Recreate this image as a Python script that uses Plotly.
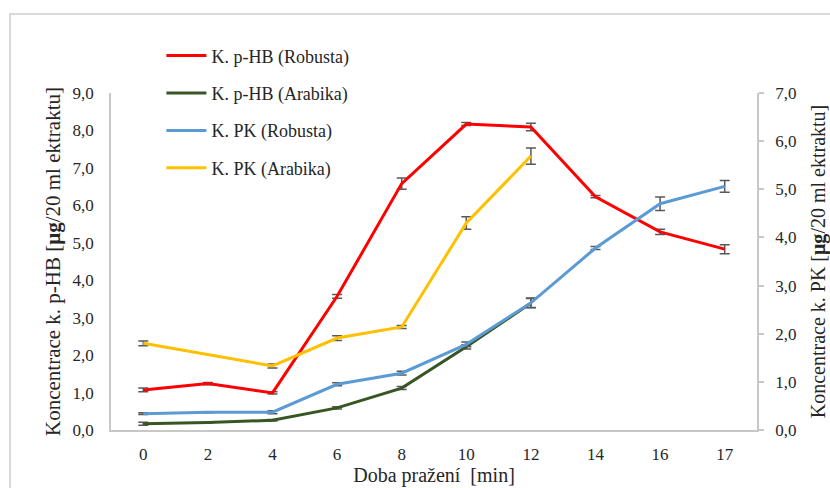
import plotly.graph_objects as go

# --- data ---
categories = ["0", "2", "4", "6", "8", "10", "12", "14", "16", "17"]

phb_robusta = [1.07, 1.24, 0.99, 3.57, 6.58, 8.17, 8.09, 6.23, 5.29, 4.83]
phb_robusta_err = [0.05, 0.03, 0.03, 0.05, 0.15, 0.04, 0.10, 0.03, 0.07, 0.12]

phb_arabika = [0.17, 0.20, 0.26, 0.59, 1.12, 2.22, 3.39]
phb_arabika_err = [0.04, 0.01, 0.02, 0.03, 0.04, 0.06, 0.12]

pk_robusta = [0.34, 0.37, 0.37, 0.95, 1.18, 1.78, 2.64, 3.78, 4.70, 5.06]
pk_robusta_err = [0.02, 0.01, 0.03, 0.03, 0.04, 0.05, 0.10, 0.03, 0.14, 0.12]

pk_arabika = [1.80, None, 1.33, 1.91, 2.14, 4.30, 5.69]
pk_arabika_err = [0.05, 0.0, 0.04, 0.05, 0.03, 0.13, 0.17]

left_ticks = [0, 1, 2, 3, 4, 5, 6, 7, 8, 9]
right_ticks = [0, 1, 2, 3, 4, 5, 6, 7]

FONT = "'Liberation Serif', 'Times New Roman', 'DejaVu Serif', serif"
ERR_COLOR = "#595959"
AXIS_COLOR = "#c8c8c8"
TXT = "#262626"

fig = go.Figure()

series = [
    ("K. p-HB (Robusta)", phb_robusta, phb_robusta_err, "#ff0000", "y"),
    ("K. p-HB (Arabika)", phb_arabika, phb_arabika_err, "#375623", "y"),
    ("K. PK (Robusta)", pk_robusta, pk_robusta_err, "#5b9bd5", "y2"),
    ("K. PK (Arabika)", pk_arabika, pk_arabika_err, "#ffc000", "y2"),
]

for i, (name, vals, errs, color, yax) in enumerate(series):
    fig.add_trace(go.Scatter(
        x=categories[:len(vals)],
        y=vals,
        name=name,
        mode="lines",
        line=dict(color=color, width=3),
        connectgaps=True,
        yaxis=yax,
        legendgroup=f"g{i}",
        error_y=dict(type="data", array=errs, visible=True,
                     color=ERR_COLOR, thickness=1.5, width=5),
    ))

fig.update_layout(
    width=830, height=488,
    margin=dict(l=111, r=73, t=93, b=58),
    paper_bgcolor="white",
    plot_bgcolor="white",
    separators=", ",
    font=dict(family=FONT, size=17, color=TXT),
    showlegend=True,
    legend=dict(
        x=0.078, y=1.165, xanchor="left", yanchor="top",
        font=dict(family=FONT, size=18, color=TXT),
        tracegroupgap=11,
        bgcolor="rgba(0,0,0,0)",
        itemwidth=40,
    ),
    xaxis=dict(
        type="category",
        range=[-0.5, 9.5],
        automargin=False,
        showgrid=False,
        showline=True, linecolor=AXIS_COLOR, linewidth=1.5,
        ticks="",
        ticklabelstandoff=8,
        tickfont=dict(family=FONT, size=17, color=TXT),
        title=dict(text="Doba pražení  [min]", font=dict(family=FONT, size=20, color=TXT), standoff=4),
        zeroline=False,
    ),
    yaxis=dict(
        range=[0, 9],
        tickvals=left_ticks,
        tickformat=".1f",
        automargin=False,
        showgrid=False,
        showline=True, linecolor=AXIS_COLOR, linewidth=1.5,
        ticks="",
        ticklabelstandoff=12,
        tickfont=dict(family=FONT, size=17, color=TXT),
        title=dict(text="Koncentrace k. p-HB [<b>μg</b>/20 ml ektraktu]",
                   font=dict(family=FONT, size=21, color=TXT), standoff=6),
        zeroline=False,
    ),
    yaxis2=dict(
        range=[0, 7],
        tickvals=right_ticks,
        tickformat=".1f",
        overlaying="y",
        side="right",
        automargin=False,
        showgrid=False,
        showline=True, linecolor=AXIS_COLOR, linewidth=1.5,
        ticks="outside", ticklen=5, tickcolor=AXIS_COLOR, tickwidth=1.5,
        ticklabelstandoff=8,
        tickfont=dict(family=FONT, size=17, color=TXT),
        title=dict(text="Koncentrace k. PK [<b>μg</b>/20 ml ektraktu]",
                   font=dict(family=FONT, size=20, color=TXT), standoff=16),
        zeroline=False,
    ),
    shapes=[dict(type="rect", xref="paper", yref="paper",
                 x0=-0.1563, x1=1.2, y0=-0.3, y1=1.2344,
                 line=dict(color="#d9d9d9", width=2), fillcolor="rgba(0,0,0,0)",
                 layer="below")],
)

fig.write_html("out.html")
